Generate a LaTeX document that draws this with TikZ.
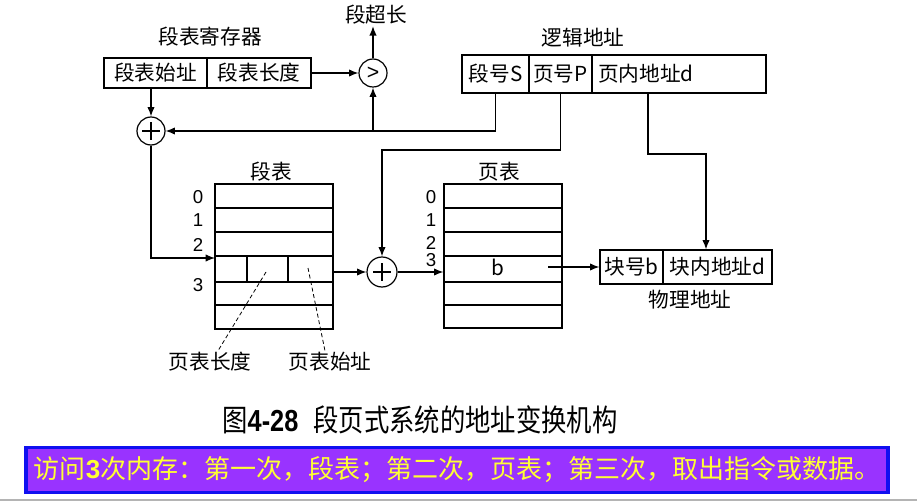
\documentclass[tikz,border=0pt]{standalone}
\usepackage{fontspec}
\setsansfont{Liberation Sans}
\newfontfamily\cjkfont{Noto Sans CJK SC}
\usetikzlibrary{arrows.meta,positioning,calc}
\definecolor{BarFill}{HTML}{9933FF}
\definecolor{BarEdge}{HTML}{1010F0}
\definecolor{BarText}{HTML}{FFFF33}
\definecolor{RuleGray}{HTML}{B4B4B4}
\newdimen\upx \upx=0.75pt
\tikzset{
  wire/.style={line width=0.9pt},
  flow/.style={wire,-{Latex[length=7pt,width=5.5pt]}},
  leader/.style={line width=0.6pt,densely dashed},
  label/.style={font=\cjkfont\fontsize{15.5}{18}\selectfont,inner sep=1pt},
  field/.style={label,draw,wire,inner sep=0pt},
  tablebox/.style={draw,wire,inner sep=0pt},
  rownum/.style={font=\sffamily\fontsize{14}{16}\selectfont,inner sep=0pt},
  ring/.style={draw,wire,circle,minimum size=28\upx,inner sep=0pt},
  adder/.style={ring,path picture={
      \draw[wire] (path picture bounding box.center) ++(-9\upx,0) -- ++(18\upx,0)
                  (path picture bounding box.center) ++(0,-9\upx) -- ++(0,18\upx);}},
  caption/.style={font=\cjkfont\fontsize{19}{22}\selectfont},
  notebar/.style={draw=BarEdge,line width=2.4pt,fill=BarFill,text=BarText,
                  font=\cjkfont\fontsize{19.5}{22}\selectfont,inner sep=0pt},
}

\begin{document}
\begin{tikzpicture}[x=0.75pt,y=-0.75pt]
  \useasboundingbox (0,0) rectangle (917,502);

  % segment table register
  \node[label] (regtitle) at (210,37) {段表寄存器};
  \node[field,minimum width=103\upx,minimum height=30\upx] (segbase) at (155.5,73) {段表始址};
  \node[field,minimum width=104\upx,minimum height=30\upx] (seglen) at (259,73) {段表长度};
  \node[ring,font=\sffamily\fontsize{16}{16}\selectfont] (cmp) at (373,73) {>};
  \node[label] (over) at (376,15) {段超长};
  \node[adder] (add1) at (151,131) {};

  % logical address
  \node[label] (laddr) at (583,38) {逻辑地址};
  \node[field,minimum width=67\upx,minimum height=38\upx] (sno) at (495.5,74) {段号S};
  \node[field,minimum width=63\upx,minimum height=38\upx] (pno) at (560.5,74) {页号P};
  \node[field,minimum height=38\upx,inner xsep=6\upx,text width=162\upx,align=left]
    (off) at (679,74) {页内地址d};

  % segment table
  \node[label] (segtitle) at (271,172) {段表};
  \node[tablebox,minimum width=118\upx,minimum height=145\upx] (segtab) at (274,256.5) {};
  \foreach \y in {208,232,256,282,305}
    \draw[wire] (215,\y) -- (333,\y);
  \draw[wire] (247,256) -- (247,282) (288,256) -- (288,282);
  \node[rownum] (s0) at (198,197) {0};
  \node[rownum] (s1) at (198,220) {1};
  \node[rownum] (s2) at (198,245) {2};
  \node[rownum] (s3) at (198,285) {3};

  % page table
  \node[label] (pagetitle) at (499,172) {页表};
  \node[tablebox,minimum width=118\upx,minimum height=144\upx] (pagetab) at (503,256) {};
  \foreach \y in {208,232,256,282,305}
    \draw[wire] (444,\y) -- (562,\y);
  \node[rownum] (p0) at (431,197) {0};
  \node[rownum] (p1) at (431,220) {1};
  \node[rownum] (p2) at (431,243) {2};
  \node[rownum] (p3) at (431,260) {3};
  \node[label] (bval) at (498,267) {b};
  \node[adder,minimum size=30\upx] (add2) at (382,272) {};

  % physical address
  \node[field,minimum width=63\upx,minimum height=34\upx] (blk) at (631.5,267) {块号b};
  \node[field,minimum width=109\upx,minimum height=34\upx] (blkoff) at (717.5,267) {块内地址d};
  \node[label] (paddr) at (690,300) {物理地址};

  \node[label] (ptlen) at (210,362) {页表长度};
  \node[label] (ptbase) at (330,362) {页表始址};

  \coordinate (pbend) at (382,150);
  \coordinate (dx) at (648,0);
  \coordinate (dbend) at (706,154);
  \coordinate (segin) at (215,258);
  \coordinate (bout) at (548,267);
  \coordinate (lenpt) at (266,272);
  \coordinate (basept) at (308,268);

  \draw[flow] (seglen) -- (cmp);
  \draw[flow] (cmp.north) -- (cmp.north |- over.south);
  \draw[flow] (segbase.south -| add1) -- (add1);
  \draw[flow] (sno.south) |- (add1);
  \draw[flow] (cmp |- add1) -- (cmp);
  \draw[flow] (pno.south) |- (pbend) -- (add2);
  \draw[flow] (off.south -| dx) |- (dbend) -- (blkoff.north -| dbend);
  \draw[flow] (add1) |- (segin);
  \draw[flow] (segtab.east |- add2) -- (add2);
  \draw[flow] (add2) -- (pagetab.west |- add2);
  \draw[flow] (bout) -- (blk);
  \draw[leader] (lenpt) -- ([xshift=8\upx]ptlen.north);
  \draw[leader] (basept) -- ([xshift=-5\upx]ptbase.north);

  \node[caption] (fig) at (420,420)
    {\scalebox{1}[1.2]{图{\sffamily\bfseries 4-28}\hspace{0.6em}段页式系统的地址变换机构}};

  \node[notebar,minimum width=862\upx,minimum height=45\upx] (note) at (457,470)
    {访问{\sffamily\bfseries 3}次内存：第一次，段表；第二次，页表；第三次，取出指令或数据。};
  \draw[RuleGray,line width=1.5pt] (0,500) -- (917,500);
\end{tikzpicture}
\end{document}
